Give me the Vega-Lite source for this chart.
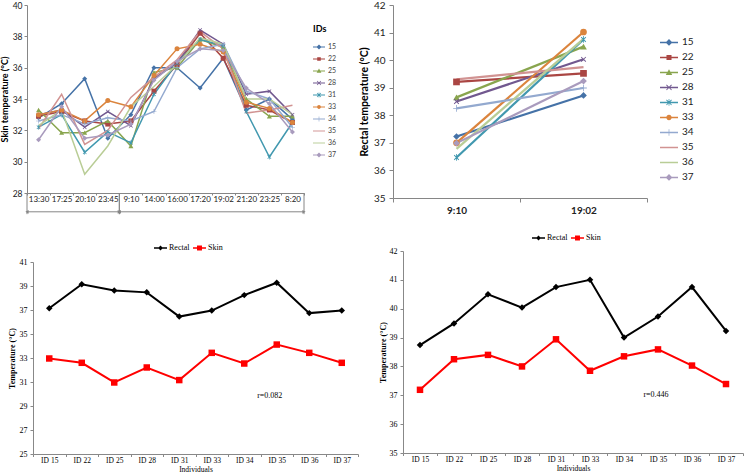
{
"$schema": "https://vega.github.io/schema/vega-lite/v6.json",
"padding": {"left": 0, "top": 0, "right": 0, "bottom": 0},
"config": {"view": {"stroke": null}, "axis": {"grid": false, "labelOverlap": false}},
"datasets": {
"skin": [
{"time":"13:30","ID":"15","t":32.8},{"time":"17:25","ID":"15","t":33.7},{"time":"20:10","ID":"15","t":35.3},{"time":"23:45","ID":"15","t":31.5},{"time":"9:10","ID":"15","t":33.0},{"time":"14:00","ID":"15","t":36.0},{"time":"16:00","ID":"15","t":36.0},{"time":"17:20","ID":"15","t":34.7},{"time":"19:02","ID":"15","t":36.6},{"time":"21:20","ID":"15","t":33.3},{"time":"23:25","ID":"15","t":34.0},{"time":"8:20","ID":"15","t":32.7},
{"time":"13:30","ID":"22","t":32.9},{"time":"17:25","ID":"22","t":33.2},{"time":"20:10","ID":"22","t":32.6},{"time":"23:45","ID":"22","t":32.4},{"time":"9:10","ID":"22","t":32.6},{"time":"14:00","ID":"22","t":34.5},{"time":"16:00","ID":"22","t":36.2},{"time":"17:20","ID":"22","t":38.2},{"time":"19:02","ID":"22","t":36.6},{"time":"21:20","ID":"22","t":33.6},{"time":"23:25","ID":"22","t":33.3},{"time":"8:20","ID":"22","t":32.5},
{"time":"13:30","ID":"25","t":33.3},{"time":"17:25","ID":"25","t":31.85},{"time":"20:10","ID":"25","t":31.85},{"time":"23:45","ID":"25","t":32.6},{"time":"9:10","ID":"25","t":31.0},{"time":"14:00","ID":"25","t":35.7},{"time":"16:00","ID":"25","t":36.0},{"time":"17:20","ID":"25","t":37.8},{"time":"19:02","ID":"25","t":37.3},{"time":"21:20","ID":"25","t":34.0},{"time":"23:25","ID":"25","t":32.9},{"time":"8:20","ID":"25","t":32.9},
{"time":"13:30","ID":"28","t":33.0},{"time":"17:25","ID":"28","t":33.3},{"time":"20:10","ID":"28","t":32.2},{"time":"23:45","ID":"28","t":33.2},{"time":"9:10","ID":"28","t":32.3},{"time":"14:00","ID":"28","t":35.3},{"time":"16:00","ID":"28","t":36.3},{"time":"17:20","ID":"28","t":38.4},{"time":"19:02","ID":"28","t":37.5},{"time":"21:20","ID":"28","t":34.3},{"time":"23:25","ID":"28","t":34.5},{"time":"8:20","ID":"28","t":33.0},
{"time":"13:30","ID":"31","t":32.2},{"time":"17:25","ID":"31","t":33.0},{"time":"20:10","ID":"31","t":30.6},{"time":"23:45","ID":"31","t":31.9},{"time":"9:10","ID":"31","t":31.2},{"time":"14:00","ID":"31","t":34.3},{"time":"16:00","ID":"31","t":36.3},{"time":"17:20","ID":"31","t":37.8},{"time":"19:02","ID":"31","t":37.4},{"time":"21:20","ID":"31","t":33.2},{"time":"23:25","ID":"31","t":30.3},{"time":"8:20","ID":"31","t":32.5},
{"time":"13:30","ID":"33","t":33.0},{"time":"17:25","ID":"33","t":33.3},{"time":"20:10","ID":"33","t":32.6},{"time":"23:45","ID":"33","t":33.9},{"time":"9:10","ID":"33","t":33.5},{"time":"14:00","ID":"33","t":35.5},{"time":"16:00","ID":"33","t":37.2},{"time":"17:20","ID":"33","t":37.5},{"time":"19:02","ID":"33","t":37.0},{"time":"21:20","ID":"33","t":33.8},{"time":"23:25","ID":"33","t":33.4},{"time":"8:20","ID":"33","t":32.5},
{"time":"13:30","ID":"34","t":32.6},{"time":"17:25","ID":"34","t":33.0},{"time":"20:10","ID":"34","t":32.4},{"time":"23:45","ID":"34","t":32.8},{"time":"9:10","ID":"34","t":32.6},{"time":"14:00","ID":"34","t":33.2},{"time":"16:00","ID":"34","t":36.0},{"time":"17:20","ID":"34","t":37.2},{"time":"19:02","ID":"34","t":37.5},{"time":"21:20","ID":"34","t":34.5},{"time":"23:25","ID":"34","t":34.0},{"time":"8:20","ID":"34","t":32.2},
{"time":"13:30","ID":"35","t":32.1},{"time":"17:25","ID":"35","t":34.3},{"time":"20:10","ID":"35","t":31.1},{"time":"23:45","ID":"35","t":32.0},{"time":"9:10","ID":"35","t":34.1},{"time":"14:00","ID":"35","t":35.4},{"time":"16:00","ID":"35","t":36.5},{"time":"17:20","ID":"35","t":38.3},{"time":"19:02","ID":"35","t":37.2},{"time":"21:20","ID":"35","t":33.1},{"time":"23:25","ID":"35","t":33.3},{"time":"8:20","ID":"35","t":33.6},
{"time":"13:30","ID":"36","t":32.3},{"time":"17:25","ID":"36","t":33.3},{"time":"20:10","ID":"36","t":29.2},{"time":"23:45","ID":"36","t":31.0},{"time":"9:10","ID":"36","t":33.5},{"time":"14:00","ID":"36","t":34.8},{"time":"16:00","ID":"36","t":36.2},{"time":"17:20","ID":"36","t":37.9},{"time":"19:02","ID":"36","t":37.5},{"time":"21:20","ID":"36","t":34.0},{"time":"23:25","ID":"36","t":34.0},{"time":"8:20","ID":"36","t":33.0},
{"time":"13:30","ID":"37","t":31.4},{"time":"17:25","ID":"37","t":33.5},{"time":"20:10","ID":"37","t":31.5},{"time":"23:45","ID":"37","t":31.7},{"time":"9:10","ID":"37","t":32.4},{"time":"14:00","ID":"37","t":35.2},{"time":"16:00","ID":"37","t":36.4},{"time":"17:20","ID":"37","t":37.2},{"time":"19:02","ID":"37","t":37.1},{"time":"21:20","ID":"37","t":34.7},{"time":"23:25","ID":"37","t":33.7},{"time":"8:20","ID":"37","t":31.9}
],
"days": [{"day":"1","start":"13:30","end":"23:45"},{"day":"2","start":"9:10","end":"8:20"}],
"rectal": [
{"time":"9:10","ID":"15","t":37.23},{"time":"19:02","ID":"15","t":38.72},
{"time":"9:10","ID":"22","t":39.21},{"time":"19:02","ID":"22","t":39.52},
{"time":"9:10","ID":"25","t":38.65},{"time":"19:02","ID":"25","t":40.49},
{"time":"9:10","ID":"28","t":38.5},{"time":"19:02","ID":"28","t":40.03},
{"time":"9:10","ID":"31","t":36.47},{"time":"19:02","ID":"31","t":40.75},
{"time":"9:10","ID":"33","t":37.0},{"time":"19:02","ID":"33","t":41.02},
{"time":"9:10","ID":"34","t":38.25},{"time":"19:02","ID":"34","t":38.99},
{"time":"9:10","ID":"35","t":39.3},{"time":"19:02","ID":"35","t":39.75},
{"time":"9:10","ID":"36","t":36.78},{"time":"19:02","ID":"36","t":40.77},
{"time":"9:10","ID":"37","t":36.99},{"time":"19:02","ID":"37","t":39.24}
],
"bl": [
{"ind":"ID 15","kind":"Rectal","t":37.15},{"ind":"ID 22","kind":"Rectal","t":39.15},{"ind":"ID 25","kind":"Rectal","t":38.63},{"ind":"ID 28","kind":"Rectal","t":38.47},{"ind":"ID 31","kind":"Rectal","t":36.45},{"ind":"ID 33","kind":"Rectal","t":36.95},{"ind":"ID 34","kind":"Rectal","t":38.24},{"ind":"ID 35","kind":"Rectal","t":39.27},{"ind":"ID 36","kind":"Rectal","t":36.74},{"ind":"ID 37","kind":"Rectal","t":36.95},
{"ind":"ID 15","kind":"Skin","t":32.96},{"ind":"ID 22","kind":"Skin","t":32.6},{"ind":"ID 25","kind":"Skin","t":30.96},{"ind":"ID 28","kind":"Skin","t":32.21},{"ind":"ID 31","kind":"Skin","t":31.16},{"ind":"ID 33","kind":"Skin","t":33.43},{"ind":"ID 34","kind":"Skin","t":32.54},{"ind":"ID 35","kind":"Skin","t":34.12},{"ind":"ID 36","kind":"Skin","t":33.43},{"ind":"ID 37","kind":"Skin","t":32.6}
],
"br": [
{"ind":"ID 15","kind":"Rectal","t":38.74},{"ind":"ID 22","kind":"Rectal","t":39.49},{"ind":"ID 25","kind":"Rectal","t":40.5},{"ind":"ID 28","kind":"Rectal","t":40.04},{"ind":"ID 31","kind":"Rectal","t":40.75},{"ind":"ID 33","kind":"Rectal","t":41.0},{"ind":"ID 34","kind":"Rectal","t":39.0},{"ind":"ID 35","kind":"Rectal","t":39.73},{"ind":"ID 36","kind":"Rectal","t":40.75},{"ind":"ID 37","kind":"Rectal","t":39.23},
{"ind":"ID 15","kind":"Skin","t":37.19},{"ind":"ID 22","kind":"Skin","t":38.25},{"ind":"ID 25","kind":"Skin","t":38.4},{"ind":"ID 28","kind":"Skin","t":38.0},{"ind":"ID 31","kind":"Skin","t":38.94},{"ind":"ID 33","kind":"Skin","t":37.85},{"ind":"ID 34","kind":"Skin","t":38.35},{"ind":"ID 35","kind":"Skin","t":38.59},{"ind":"ID 36","kind":"Skin","t":38.03},{"ind":"ID 37","kind":"Skin","t":37.39}
]
},
"spacing": 0,
"hconcat": [
{
"vconcat": [
{
"width": 277, "height": 188,
"layer": [
{
"data": {"name": "skin"},
"encoding": {
"x": {"field": "time", "type": "ordinal", "bandPosition": 0.5, "title": null,
"scale": {"type": "band", "domain": ["13:30","17:25","20:10","23:45","9:10","14:00","16:00","17:20","19:02","21:20","23:25","8:20"], "paddingInner": 0, "paddingOuter": 0},
"axis": {"title": null, "labelFont": "Lato", "labelFontSize": 8, "labelColor": "#222", "labelAngle": 0, "labelPadding": 0, "tickBand": "extent", "tickSize": 2, "tickColor": "#868686", "domainColor": "#868686"}},
"y": {"field": "t", "type": "quantitative", "scale": {"domain": [28, 40], "nice": false, "zero": false},
"axis": {"values": [28,30,32,34,36,38,40], "title": "Skin temperature (°C)", "titleFont": "Lato", "titleFontSize": 9, "titleFontWeight": "bold", "titleColor": "#000", "titlePadding": 3, "labelFont": "Lato", "labelFontSize": 8.5, "labelColor": "#222", "labelPadding": 2, "tickSize": 3, "tickColor": "#868686", "domainColor": "#868686"}},
"color": {"field": "ID", "type": "nominal", "scale": {"domain": ["15","22","25","28","31","33","34","35","36","37"], "range": ["#4572A7","#AA4643","#89A54E","#71588F","#4198AF","#DB843D","#93A9CF","#D19392","#B9CD96","#A99BBD"]}, "legend": null}
},
"layer": [
{"mark": {"type": "line", "strokeWidth": 1.5}},
{"mark": {"type": "point", "filled": true, "size": 25, "opacity": 1},
"encoding": {"shape": {"field": "ID", "type": "nominal", "legend": null, "scale": {"domain": ["15","22","25","28","31","33","34","35","36","37"], "range": ["diamond","square","triangle-up","M-0.8,-0.6L-0.6,-0.8L0,-0.2L0.6,-0.8L0.8,-0.6L0.2,0L0.8,0.6L0.6,0.8L0,0.2L-0.6,0.8L-0.8,0.6L-0.2,0Z","M-0.8,-0.6L-0.6,-0.8L0,-0.2L0.6,-0.8L0.8,-0.6L0.2,0L0.8,0.6L0.6,0.8L0,0.2L-0.6,0.8L-0.8,0.6L-0.2,0ZM-0.12,-1H0.12V1H-0.12Z","circle","M-0.12,-1H0.12V-0.12H1V0.12H0.12V1H-0.12V0.12H-1V-0.12H-0.12Z","M0,0Z","M0,0Z","diamond"]}}}},
{"transform": [{"filter": "false"}],
"mark": {"type": "point", "filled": true, "opacity": 1},
"encoding": {
"color": {"field": "ID", "type": "nominal", "scale": {"domain": ["15","22","25","28","31","33","34","35","36","37"], "range": ["#4572A7","#AA4643","#89A54E","#71588F","#4198AF","#DB843D","#93A9CF","#D19392","#B9CD96","#A99BBD"]},
"legend": {"title": "IDs", "orient": "none", "legendX": 286, "legendY": 20, "padding": 0, "titleFont": "Lato", "titleFontSize": 9, "titleFontWeight": "bold", "titleColor": "#000", "titlePadding": 7, "labelFont": "Lato", "labelFontSize": 7, "labelColor": "#444", "labelOffset": 3, "symbolSize": 144, "clipHeight": 12, "rowPadding": 0, "symbolStrokeWidth": 0}},
"shape": {"field": "ID", "type": "nominal", "scale": {"domain": ["15","22","25","28","31","33","34","35","36","37"], "range": [
"M-1,-0.08H1V0.08H-1ZM0,-0.42L0.42,0L0,0.42L-0.42,0Z",
"M-1,-0.08H1V0.08H-1ZM-0.3,-0.3H0.3V0.3H-0.3Z",
"M-1,-0.08H1V0.08H-1ZM0,-0.4L0.4,0.3H-0.4Z",
"M-1,-0.08H1V0.08H-1ZM-0.36,-0.28L-0.28,-0.36L0,-0.08L0.28,-0.36L0.36,-0.28L0.08,0L0.36,0.28L0.28,0.36L0,0.08L-0.28,0.36L-0.36,0.28L-0.08,0Z",
"M-1,-0.08H1V0.08H-1ZM-0.36,-0.28L-0.28,-0.36L0,-0.08L0.28,-0.36L0.36,-0.28L0.08,0L0.36,0.28L0.28,0.36L0,0.08L-0.28,0.36L-0.36,0.28L-0.08,0ZM-0.05,-0.42H0.05V0.42H-0.05Z",
"M-1,-0.08H1V0.08H-1ZM-0.32,0A0.32,0.32 0 1,1 0.32,0A0.32,0.32 0 1,1 -0.32,0Z",
"M-1,-0.08H1V0.08H-1ZM-0.05,-0.4H0.05V0.4H-0.05ZM-0.4,-0.06H0.4V0.06H-0.4Z",
"M-1,-0.08H1V0.08H-1Z",
"M-1,-0.08H1V0.08H-1Z",
"M-1,-0.08H1V0.08H-1ZM0,-0.42L0.42,0L0,0.42L-0.42,0Z"]},
"legend": {"title": "IDs", "orient": "none", "legendX": 286, "legendY": 20, "padding": 0, "titleFont": "Lato", "titleFontSize": 9, "titleFontWeight": "bold", "titleColor": "#000", "titlePadding": 7, "labelFont": "Lato", "labelFontSize": 7, "labelColor": "#444", "labelOffset": 3, "symbolSize": 144, "clipHeight": 12, "rowPadding": 0, "symbolStrokeWidth": 0}}
}}
],
"resolve": {"scale": {"shape": "independent", "color": "independent"}}
},
{
"data": {"name": "days"},
"encoding": {
"x": {"field": "start", "type": "ordinal", "bandPosition": 0,
"scale": {"type": "band", "domain": ["13:30","17:25","20:10","23:45","9:10","14:00","16:00","17:20","19:02","21:20","23:25","8:20"], "paddingInner": 0, "paddingOuter": 0},
"axis": {"title": null, "labelFont": "Lato", "labelFontSize": 8, "labelColor": "#222", "labelAngle": 0, "labelPadding": 0, "tickBand": "extent", "tickSize": 2, "tickColor": "#868686", "domainColor": "#868686"}},
"y": {"datum": 26.8, "type": "quantitative", "scale": {"domain": [28, 40], "nice": false, "zero": false},
"axis": {"values": [28,30,32,34,36,38,40], "title": "Skin temperature (°C)", "titleFont": "Lato", "titleFontSize": 9, "titleFontWeight": "bold", "titleColor": "#000", "titlePadding": 3, "labelFont": "Lato", "labelFontSize": 8.5, "labelColor": "#222", "labelPadding": 2, "tickSize": 3, "tickColor": "#868686", "domainColor": "#868686"}}
},
"layer": [
{"mark": {"type": "rule", "color": "#868686", "strokeWidth": 1},
"encoding": {"x2": {"field": "end", "bandPosition": 1}}},
{"mark": {"type": "rule", "color": "#868686", "strokeWidth": 1},
"encoding": {"y": {"datum": 28, "type": "quantitative"}, "y2": {"datum": 26.65}}},
{"mark": {"type": "rule", "color": "#868686", "strokeWidth": 1},
"encoding": {"x": {"field": "end", "type": "ordinal", "bandPosition": 1}, "y": {"datum": 28, "type": "quantitative"}, "y2": {"datum": 26.65}}},
{"mark": {"type": "point", "shape": "triangle-left", "filled": true, "size": 14, "color": "#868686", "opacity": 1}},
{"mark": {"type": "point", "shape": "triangle-right", "filled": true, "size": 14, "color": "#868686", "opacity": 1},
"encoding": {"x": {"field": "end", "type": "ordinal", "bandPosition": 1}}}
]
}
]
},
{
"width": 331, "height": 192,
"layer": [
{
"data": {"name": "bl"},
"encoding": {
"x": {"field": "ind", "type": "ordinal", "bandPosition": 0.5,
"scale": {"type": "band", "domain": ["ID 15","ID 22","ID 25","ID 28","ID 31","ID 33","ID 34","ID 35","ID 36","ID 37"], "range": [6, 331], "paddingInner": 0, "paddingOuter": 0},
"axis": {"title": "Individuals", "titleFont": "Liberation Serif", "titleFontSize": 7.5, "titleFontWeight": "normal", "titleColor": "#000", "titlePadding": 1, "labelFont": "Liberation Serif", "labelFontSize": 7.5, "labelColor": "#000", "labelAngle": 0, "labelPadding": 0, "tickBand": "extent", "tickSize": 2.5, "tickColor": "#888", "domainColor": "#888"}},
"y": {"field": "t", "type": "quantitative", "scale": {"domain": [25, 41], "nice": false, "zero": false},
"axis": {"offset": -6, "values": [25,27,29,31,33,35,37,39,41], "title": "Temperature (°C)", "titleFont": "Liberation Serif", "titleFontSize": 8, "titleFontWeight": "bold", "titleColor": "#000", "titlePadding": 3, "labelFont": "Liberation Serif", "labelFontSize": 8, "labelColor": "#000", "labelPadding": 3, "tickSize": 3, "tickColor": "#888", "domainColor": "#888"}},
"color": {"field": "kind", "type": "nominal", "scale": {"domain": ["Rectal","Skin"], "range": ["#000000","#FF0000"]}, "legend": null}
},
"layer": [
{"mark": {"type": "line", "strokeWidth": 2}},
{"mark": {"type": "point", "filled": true, "size": 42, "opacity": 1},
"encoding": {"shape": {"field": "kind", "type": "nominal", "legend": null, "scale": {"domain": ["Rectal","Skin"], "range": ["diamond","square"]}}}},
{"transform": [{"filter": "false"}],
"mark": {"type": "point", "filled": true, "opacity": 1},
"encoding": {
"color": {"field": "kind", "type": "nominal", "scale": {"domain": ["Rectal","Skin"], "range": ["#000000","#FF0000"]},
"legend": {"title": null, "orient": "none", "direction": "horizontal", "legendX": 127, "legendY": -19, "padding": 0, "labelFont": "Liberation Serif", "labelFontSize": 8, "labelColor": "#000", "labelOffset": 2, "symbolSize": 169, "clipHeight": 10, "columnPadding": 3, "symbolStrokeWidth": 0}},
"shape": {"field": "kind", "type": "nominal", "scale": {"domain": ["Rectal","Skin"], "range": ["M-1,-0.12H1V0.12H-1ZM0,-0.38L0.38,0L0,0.38L-0.38,0Z","M-1,-0.12H1V0.12H-1ZM-0.38,-0.38H0.38V0.38H-0.38Z"]},
"legend": {"title": null, "orient": "none", "direction": "horizontal", "legendX": 127, "legendY": -19, "padding": 0, "labelFont": "Liberation Serif", "labelFontSize": 8, "labelColor": "#000", "labelOffset": 2, "symbolSize": 169, "clipHeight": 10, "columnPadding": 3, "symbolStrokeWidth": 0}}
}}
],
"resolve": {"scale": {"shape": "independent", "color": "independent"}}
},
{
"data": {"values": [{"label": "r=0.082"}]},
"mark": {"type": "text", "font": "Liberation Serif", "fontSize": 8, "color": "#000", "dx": -7},
"encoding": {
"x": {"datum": "ID 35", "type": "ordinal", "bandPosition": 0.5,
"scale": {"type": "band", "domain": ["ID 15","ID 22","ID 25","ID 28","ID 31","ID 33","ID 34","ID 35","ID 36","ID 37"], "range": [6, 331], "paddingInner": 0, "paddingOuter": 0},
"axis": {"title": "Individuals", "titleFont": "Liberation Serif", "titleFontSize": 7.5, "titleFontWeight": "normal", "titleColor": "#000", "titlePadding": 1, "labelFont": "Liberation Serif", "labelFontSize": 7.5, "labelColor": "#000", "labelAngle": 0, "labelPadding": 0, "tickBand": "extent", "tickSize": 2.5, "tickColor": "#888", "domainColor": "#888"}},
"y": {"datum": 29.85, "type": "quantitative", "scale": {"domain": [25, 41], "nice": false, "zero": false},
"axis": {"offset": -6, "values": [25,27,29,31,33,35,37,39,41], "title": "Temperature (°C)", "titleFont": "Liberation Serif", "titleFontSize": 8, "titleFontWeight": "bold", "titleColor": "#000", "titlePadding": 3, "labelFont": "Liberation Serif", "labelFontSize": 8, "labelColor": "#000", "labelPadding": 3, "tickSize": 3, "tickColor": "#888", "domainColor": "#888"}},
"text": {"field": "label"}}
}
]
}
],
"spacing": 69,
"bounds": "flush"
},
{
"vconcat": [
{
"width": 254, "height": 193,
"data": {"name": "rectal"},
"encoding": {
"x": {"field": "time", "type": "ordinal", "bandPosition": 0.5, "title": null,
"scale": {"type": "band", "domain": ["9:10","19:02"], "paddingInner": 0, "paddingOuter": 0},
"axis": {"labelFont": "Lato", "labelFontSize": 10, "labelFontWeight": "bold", "labelColor": "#222", "labelAngle": 0, "labelPadding": 3, "tickBand": "extent", "tickSize": 4, "tickColor": "#868686", "domainColor": "#868686"}},
"y": {"field": "t", "type": "quantitative", "scale": {"domain": [35, 42], "nice": false, "zero": false},
"axis": {"values": [35,36,37,38,39,40,41,42], "title": "Rectal temperature (°C)", "titleFont": "Lato", "titleFontSize": 10.5, "titleFontWeight": "bold", "titleColor": "#000", "titlePadding": 4, "labelFont": "Lato", "labelFontSize": 10, "labelColor": "#222", "labelPadding": 4, "tickSize": 4, "tickColor": "#868686", "domainColor": "#868686"}},
"color": {"field": "ID", "type": "nominal", "scale": {"domain": ["15","22","25","28","31","33","34","35","36","37"], "range": ["#4572A7","#AA4643","#89A54E","#71588F","#4198AF","#DB843D","#93A9CF","#D19392","#B9CD96","#A99BBD"]}, "legend": null}
},
"layer": [
{"mark": {"type": "line", "strokeWidth": 2.2}},
{"mark": {"type": "point", "filled": true, "size": 45, "opacity": 1},
"encoding": {"shape": {"field": "ID", "type": "nominal", "legend": null, "scale": {"domain": ["15","22","25","28","31","33","34","35","36","37"], "range": ["diamond","square","triangle-up","M-0.8,-0.6L-0.6,-0.8L0,-0.2L0.6,-0.8L0.8,-0.6L0.2,0L0.8,0.6L0.6,0.8L0,0.2L-0.6,0.8L-0.8,0.6L-0.2,0Z","M-0.8,-0.6L-0.6,-0.8L0,-0.2L0.6,-0.8L0.8,-0.6L0.2,0L0.8,0.6L0.6,0.8L0,0.2L-0.6,0.8L-0.8,0.6L-0.2,0ZM-0.12,-1H0.12V1H-0.12Z","circle","M-0.12,-1H0.12V-0.12H1V0.12H0.12V1H-0.12V0.12H-1V-0.12H-0.12Z","M0,0Z","M0,0Z","diamond"]}}}},
{"transform": [{"filter": "false"}],
"mark": {"type": "point", "filled": true, "opacity": 1},
"encoding": {
"color": {"field": "ID", "type": "nominal", "scale": {"domain": ["15","22","25","28","31","33","34","35","36","37"], "range": ["#4572A7","#AA4643","#89A54E","#71588F","#4198AF","#DB843D","#93A9CF","#D19392","#B9CD96","#A99BBD"]},
"legend": {"title": null, "orient": "none", "legendX": 267, "legendY": 30, "padding": 0, "labelFont": "Lato", "labelFontSize": 10, "labelColor": "#222", "labelOffset": 4, "symbolSize": 324, "clipHeight": 14.9, "rowPadding": 0, "symbolStrokeWidth": 0}},
"shape": {"field": "ID", "type": "nominal", "scale": {"domain": ["15","22","25","28","31","33","34","35","36","37"], "range": [
"M-1,-0.08H1V0.08H-1ZM0,-0.38L0.38,0L0,0.38L-0.38,0Z",
"M-1,-0.08H1V0.08H-1ZM-0.28,-0.28H0.28V0.28H-0.28Z",
"M-1,-0.08H1V0.08H-1ZM0,-0.36L0.36,0.28H-0.36Z",
"M-1,-0.08H1V0.08H-1ZM-0.32,-0.25L-0.25,-0.32L0,-0.07L0.25,-0.32L0.32,-0.25L0.07,0L0.32,0.25L0.25,0.32L0,0.07L-0.25,0.32L-0.32,0.25L-0.07,0Z",
"M-1,-0.08H1V0.08H-1ZM-0.32,-0.25L-0.25,-0.32L0,-0.07L0.25,-0.32L0.32,-0.25L0.07,0L0.32,0.25L0.25,0.32L0,0.07L-0.25,0.32L-0.32,0.25L-0.07,0ZM-0.04,-0.38H0.04V0.38H-0.04Z",
"M-1,-0.08H1V0.08H-1ZM-0.3,0A0.3,0.3 0 1,1 0.3,0A0.3,0.3 0 1,1 -0.3,0Z",
"M-1,-0.08H1V0.08H-1ZM-0.04,-0.36H0.04V0.36H-0.04Z",
"M-1,-0.08H1V0.08H-1Z",
"M-1,-0.08H1V0.08H-1Z",
"M-1,-0.08H1V0.08H-1ZM0,-0.38L0.38,0L0,0.38L-0.38,0Z"]},
"legend": {"title": null, "orient": "none", "legendX": 267, "legendY": 30, "padding": 0, "labelFont": "Lato", "labelFontSize": 10, "labelColor": "#222", "labelOffset": 4, "symbolSize": 324, "clipHeight": 14.9, "rowPadding": 0, "symbolStrokeWidth": 0}}
}}
],
"resolve": {"scale": {"shape": "independent", "color": "independent"}}
},
{
"width": 350, "height": 202,
"layer": [
{
"data": {"name": "br"},
"encoding": {
"x": {"field": "ind", "type": "ordinal", "bandPosition": 0.5,
"scale": {"type": "band", "domain": ["ID 15","ID 22","ID 25","ID 28","ID 31","ID 33","ID 34","ID 35","ID 36","ID 37"], "range": [10, 350], "paddingInner": 0, "paddingOuter": 0},
"axis": {"title": "Individuals", "titleFont": "Liberation Serif", "titleFontSize": 7.5, "titleFontWeight": "normal", "titleColor": "#000", "titlePadding": 1, "labelFont": "Liberation Serif", "labelFontSize": 7.5, "labelColor": "#000", "labelAngle": 0, "labelPadding": 0, "tickBand": "extent", "tickSize": 2.5, "tickColor": "#888", "domainColor": "#888"}},
"y": {"field": "t", "type": "quantitative", "scale": {"domain": [35, 42], "nice": false, "zero": false},
"axis": {"offset": -10, "values": [35,36,37,38,39,40,41,42], "title": "Temperature (°C)", "titleFont": "Liberation Serif", "titleFontSize": 8, "titleFontWeight": "bold", "titleColor": "#000", "titlePadding": 2, "labelFont": "Liberation Serif", "labelFontSize": 8, "labelColor": "#000", "labelPadding": 3, "tickSize": 3, "tickColor": "#888", "domainColor": "#888"}},
"color": {"field": "kind", "type": "nominal", "scale": {"domain": ["Rectal","Skin"], "range": ["#000000","#FF0000"]}, "legend": null}
},
"layer": [
{"mark": {"type": "line", "strokeWidth": 2}},
{"mark": {"type": "point", "filled": true, "size": 42, "opacity": 1},
"encoding": {"shape": {"field": "kind", "type": "nominal", "legend": null, "scale": {"domain": ["Rectal","Skin"], "range": ["diamond","square"]}}}},
{"transform": [{"filter": "false"}],
"mark": {"type": "point", "filled": true, "opacity": 1},
"encoding": {
"color": {"field": "kind", "type": "nominal", "scale": {"domain": ["Rectal","Skin"], "range": ["#000000","#FF0000"]},
"legend": {"title": null, "orient": "none", "direction": "horizontal", "legendX": 139, "legendY": -18, "padding": 0, "labelFont": "Liberation Serif", "labelFontSize": 8, "labelColor": "#000", "labelOffset": 2, "symbolSize": 169, "clipHeight": 10, "columnPadding": 3, "symbolStrokeWidth": 0}},
"shape": {"field": "kind", "type": "nominal", "scale": {"domain": ["Rectal","Skin"], "range": ["M-1,-0.12H1V0.12H-1ZM0,-0.38L0.38,0L0,0.38L-0.38,0Z","M-1,-0.12H1V0.12H-1ZM-0.38,-0.38H0.38V0.38H-0.38Z"]},
"legend": {"title": null, "orient": "none", "direction": "horizontal", "legendX": 139, "legendY": -18, "padding": 0, "labelFont": "Liberation Serif", "labelFontSize": 8, "labelColor": "#000", "labelOffset": 2, "symbolSize": 169, "clipHeight": 10, "columnPadding": 3, "symbolStrokeWidth": 0}}
}}
],
"resolve": {"scale": {"shape": "independent", "color": "independent"}}
},
{
"data": {"values": [{"label": "r=0.446"}]},
"mark": {"type": "text", "font": "Liberation Serif", "fontSize": 8, "color": "#000", "dx": -2},
"encoding": {
"x": {"datum": "ID 35", "type": "ordinal", "bandPosition": 0.5,
"scale": {"type": "band", "domain": ["ID 15","ID 22","ID 25","ID 28","ID 31","ID 33","ID 34","ID 35","ID 36","ID 37"], "range": [10, 350], "paddingInner": 0, "paddingOuter": 0},
"axis": {"title": "Individuals", "titleFont": "Liberation Serif", "titleFontSize": 7.5, "titleFontWeight": "normal", "titleColor": "#000", "titlePadding": 1, "labelFont": "Liberation Serif", "labelFontSize": 7.5, "labelColor": "#000", "labelAngle": 0, "labelPadding": 0, "tickBand": "extent", "tickSize": 2.5, "tickColor": "#888", "domainColor": "#888"}},
"y": {"datum": 37.02, "type": "quantitative", "scale": {"domain": [35, 42], "nice": false, "zero": false},
"axis": {"offset": -10, "values": [35,36,37,38,39,40,41,42], "title": "Temperature (°C)", "titleFont": "Liberation Serif", "titleFontSize": 8, "titleFontWeight": "bold", "titleColor": "#000", "titlePadding": 2, "labelFont": "Liberation Serif", "labelFontSize": 8, "labelColor": "#000", "labelPadding": 3, "tickSize": 3, "tickColor": "#888", "domainColor": "#888"}},
"text": {"field": "label"}}
}
]
}
],
"spacing": 53,
"bounds": "flush"
}
]
}
